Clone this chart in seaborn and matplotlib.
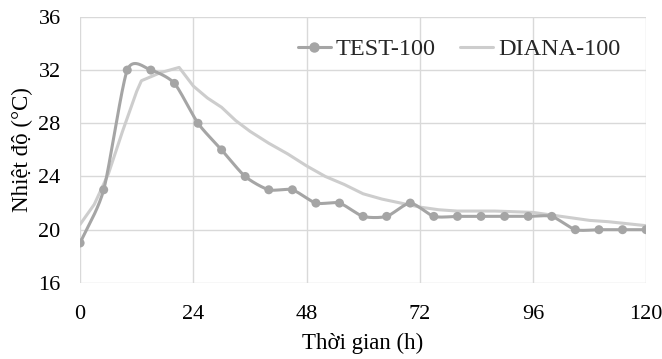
import numpy as np
import pandas as pd
import matplotlib
matplotlib.use("Agg")
import matplotlib.pyplot as plt
import seaborn as sns
from matplotlib.lines import Line2D

# ---- data ----
test_hours = [0, 5, 10, 15, 20, 25, 30, 35, 40, 45, 50, 55, 60, 65, 70, 75, 80, 85,
              90, 95, 100, 105, 110, 115, 120]
test_temp = [19, 23, 32, 32, 31, 28, 26, 24, 23, 23, 22, 22, 21, 21, 22, 21, 21, 21,
             21, 21, 21, 20, 20, 20, 20]

diana_hours = [0, 3, 6, 9, 12, 13, 15, 17, 21, 24, 27, 30, 33, 36, 40, 44, 48, 52, 56,
               60, 64, 68, 72, 76, 80, 84, 88, 92, 96, 100, 104, 108, 112, 116, 120]
diana_temp = [20.4, 21.9, 24.2, 27.4, 30.4, 31.2, 31.5, 31.8, 32.2, 30.8, 29.9, 29.2,
              28.2, 27.4, 26.5, 25.7, 24.8, 24.0, 23.4, 22.7, 22.3, 22.0, 21.7, 21.5,
              21.4, 21.4, 21.4, 21.35, 21.3, 21.1, 20.9, 20.7, 20.6, 20.45, 20.3]

x_ticks = [0, 24, 48, 72, 96, 120]
y_ticks = [16, 20, 24, 28, 32, 36]


def smooth_path(xs, ys, n=20, k=0.7):
    """Excel-style smoothed rendering path through the data points."""
    xs = np.asarray(xs, float)
    ys = np.asarray(ys, float)
    px = np.concatenate([[2 * xs[0] - xs[1]], xs, [2 * xs[-1] - xs[-2]]])
    py = np.concatenate([[2 * ys[0] - ys[1]], ys, [2 * ys[-1] - ys[-2]]])
    out_x, out_y = [], []
    t = np.linspace(0, 1, n, endpoint=False)
    for i in range(1, len(px) - 2):
        for arr, out in ((px, out_x), (py, out_y)):
            p0, p1, p2, p3 = arr[i - 1], arr[i], arr[i + 1], arr[i + 2]
            m1 = k * (p2 - p0) / 2
            m2 = k * (p3 - p1) / 2
            h00 = 2 * t**3 - 3 * t**2 + 1
            h10 = t**3 - 2 * t**2 + t
            h01 = -2 * t**3 + 3 * t**2
            h11 = t**3 - t**2
            out.extend(h00 * p1 + h10 * m1 + h01 * p2 + h11 * m2)
    out_x.append(xs[-1])
    out_y.append(ys[-1])
    return np.array(out_x), np.array(out_y)


sns.set_theme(style="white")
plt.rcParams['font.family'] = ['Liberation Serif', 'DejaVu Serif']

fig = plt.figure(figsize=(6.62, 3.59), dpi=100)
ax = fig.add_axes([0.121, 0.212, 0.855, 0.741])

test_color = "#a5a5a5"
diana_color = "#cdcdcd"

sx, sy = smooth_path(test_hours, test_temp)
smooth_df = pd.DataFrame({"h": sx, "t": sy})
diana_df = pd.DataFrame({"h": diana_hours, "t": diana_temp})
test_df = pd.DataFrame({"h": test_hours, "t": test_temp})

sns.lineplot(data=diana_df, x="h", y="t", ax=ax, color=diana_color, linewidth=2.2,
             sort=False, estimator=None, zorder=2)
sns.lineplot(data=smooth_df, x="h", y="t", ax=ax, color=test_color, linewidth=2.2,
             sort=False, estimator=None, zorder=3)
sns.scatterplot(data=test_df, x="h", y="t", ax=ax, color=test_color, s=42,
                edgecolor="none", zorder=4)

ax.set_xlim(0, 120)
ax.set_ylim(16, 36)
ax.set_xticks(x_ticks)
ax.set_yticks(y_ticks)
ax.grid(True, color="#d9d9d9", linewidth=1.0)
for s in ax.spines.values():
    s.set_visible(False)
ax.tick_params(axis="both", length=0, labelsize=16, colors="black")
ax.tick_params(axis="y", pad=14)
ax.tick_params(axis="x", pad=16)
ax.set_xlabel("Thời gian (h)", fontsize=16.5, color="black", labelpad=6)
ax.set_ylabel("Nhiệt độ (°C)", fontsize=16.5, color="black", labelpad=4)

handles = [Line2D([], [], color=test_color, linewidth=2.2, marker="o", markersize=6.5),
           Line2D([], [], color=diana_color, linewidth=2.2)]
ax.legend(handles, ["TEST-100", "DIANA-100"], loc="upper right", ncol=2, frameon=False,
          fontsize=17.5, bbox_to_anchor=(0.98, 0.975), handlelength=1.36,
          columnspacing=1.0, handletextpad=0.2, borderaxespad=0.2)

fig.savefig("out.png", dpi=100)
